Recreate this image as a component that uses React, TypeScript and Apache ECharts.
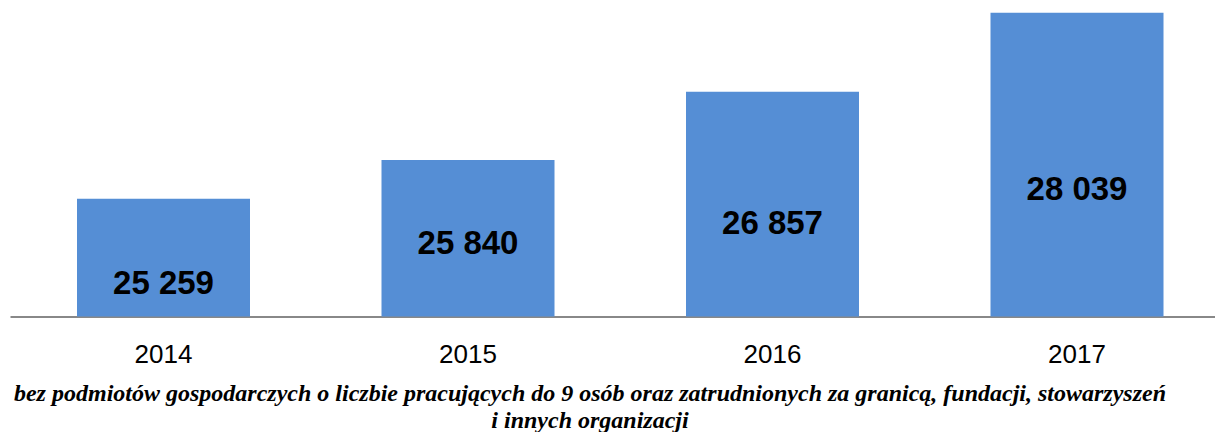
import React, { useEffect, useRef } from "react";
import * as echarts from "echarts";

const years = ["2014", "2015", "2016", "2017"];
const values = [25259, 25840, 26857, 28039];
// label lift above the axis (px)
const labelLift = [34, 74, 94, 128];
const footLines = [
  "bez podmiotów gospodarczych o liczbie pracujących do 9 osób oraz zatrudnionych za granicą, fundacji, stowarzyszeń",
  "i innych organizacji",
];

const fmt = (v: number) => {
  const s = String(v);
  return s.slice(0, s.length - 3) + " " + s.slice(-3);
};

export default function App() {
  const ref = useRef<HTMLDivElement>(null);
  useEffect(() => {
    if (!ref.current) return;
    const chart = echarts.init(ref.current, null, { renderer: "svg" });
    const LH = 40;
    chart.setOption({
      animation: false,
      grid: {
        left: 11.25,
        width: 1218,
        top: 0,
        height: 316.5,
        containLabel: false,
        outerBoundsMode: "none",
      },
      xAxis: {
        type: "category",
        data: years,
        axisLine: { lineStyle: { color: "#888888", width: 2 } },
        axisTick: { show: false },
        axisLabel: {
          color: "#000",
          fontFamily: "Liberation Sans, Arial, sans-serif",
          fontSize: 26,
          margin: 24,
        },
      },
      yAxis: {
        type: "value",
        min: 23500,
        max: 28230,
        show: false,
        splitLine: { show: false },
      },
      series: [
        {
          type: "bar",
          barWidth: 173,
          itemStyle: { color: "#558ED5" },
          data: values.map((v, i) => ({
            value: v,
            label: {
              show: true,
              position: "insideBottom",
              distance: labelLift[i] - LH / 2,
              formatter: () => fmt(v),
              color: "#000",
              fontWeight: "bold",
              fontSize: 33,
              lineHeight: LH,
              fontFamily: "Liberation Sans, Arial, sans-serif",
            },
          })),
        },
      ],
      graphic: footLines.map((t, i) => ({
        type: "text",
        x: 590,
        y: 393 + i * 27,
        style: {
          text: t,
          fill: "#000",
          font: "italic bold 24px 'Liberation Serif', 'Times New Roman', serif",
          textAlign: "center",
          textVerticalAlign: "middle",
        },
      })),
    });
    return () => chart.dispose();
  }, []);
  return (
    <div
      ref={ref}
      style={{ position: "absolute", left: 0, top: 0, width: 1215, height: 432 }}
    />
  );
}
